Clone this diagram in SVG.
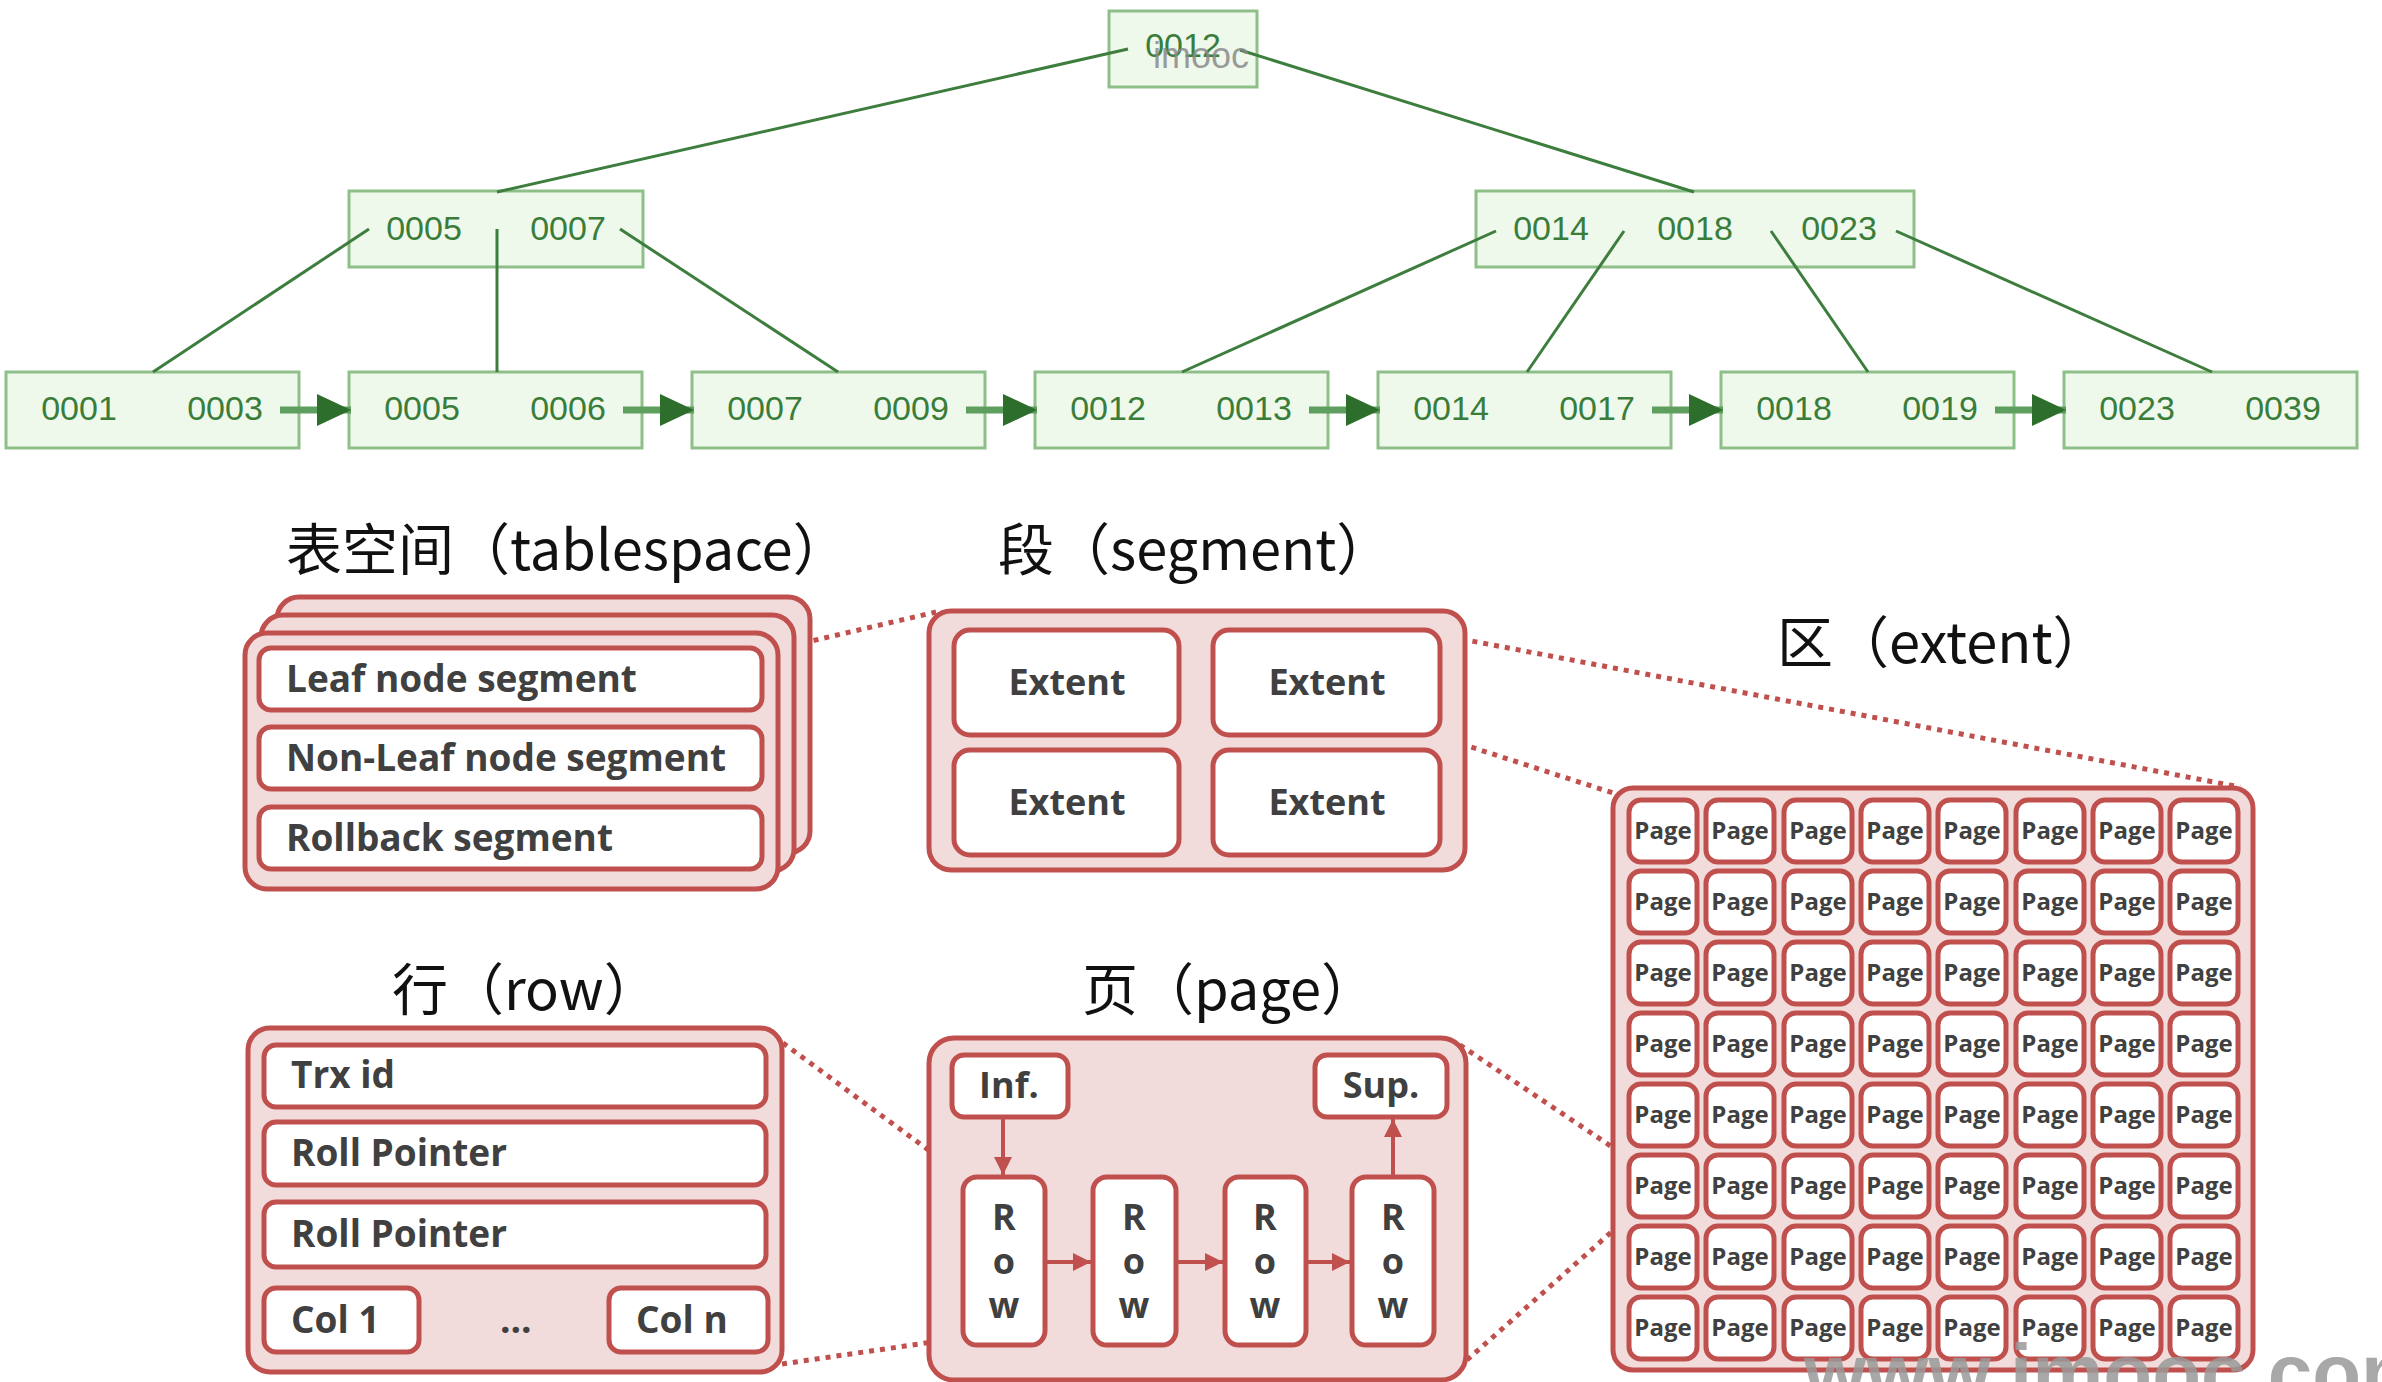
<svg xmlns="http://www.w3.org/2000/svg" width="2382" height="1382" viewBox="0 0 2382 1382">
<defs>
<style>
.tb{fill:#eef9ec;stroke:#8fbf89;stroke-width:3}
.tt{font-family:"Liberation Sans",Arial,sans-serif;font-size:34px;fill:#3a7d3a;text-anchor:middle}
.tl{stroke:#3d7d3d;stroke-width:3;fill:none}
.la{stroke:#5e9e5e;stroke-width:7;fill:none}
.ob{fill:#f2dcdb;stroke:#c0504d;stroke-width:5}
.ib{fill:#ffffff;stroke:#c0504d;stroke-width:5}
.lb{font-family:"Open Sans","Noto Sans",sans-serif;font-weight:700;font-size:37px;fill:#404040}
.lc{font-family:"Open Sans","Noto Sans",sans-serif;font-weight:700;font-size:36px;fill:#404040;text-anchor:middle}
.pg{font-family:"Open Sans","Noto Sans",sans-serif;font-weight:700;font-size:24px;fill:#404040;text-anchor:middle}
.ti{font-family:"Noto Sans CJK SC","Noto Sans",sans-serif;font-size:56px;fill:#111111}
.dl{stroke:#c0504d;stroke-width:5;stroke-dasharray:5 6;fill:none}
.ra{stroke:#c0504d;stroke-width:4;fill:none}
</style>
<marker id="ga" markerUnits="userSpaceOnUse" markerWidth="34" markerHeight="32" refX="34" refY="16" orient="auto"><path d="M0,0 L34,16 L0,32 z" fill="#2d6e2d"/></marker>
<marker id="ra" markerUnits="userSpaceOnUse" markerWidth="18" markerHeight="18" refX="18" refY="9" orient="auto"><path d="M0,0 L18,9 L0,18 z" fill="#c0504d"/></marker>
</defs>
<rect width="2382" height="1382" fill="#ffffff"/>

<g id="root"><rect class="tb" x="1109" y="11" width="148" height="76"/><text class="tt" x="1183" y="57">0012</text></g>
<g id="inner-left"><rect class="tb" x="349" y="191" width="294" height="76"/><text class="tt" x="424" y="240">0005</text><text class="tt" x="568" y="240">0007</text></g>
<g id="inner-right"><rect class="tb" x="1476" y="191" width="438" height="76"/><text class="tt" x="1551" y="240">0014</text><text class="tt" x="1695" y="240">0018</text><text class="tt" x="1839" y="240">0023</text></g>

<g id="leaf1"><rect class="tb" x="6" y="372" width="293" height="76"/><text class="tt" x="79" y="420">0001</text><text class="tt" x="225" y="420">0003</text></g>
<g id="leaf2"><rect class="tb" x="349" y="372" width="293" height="76"/><text class="tt" x="422" y="420">0005</text><text class="tt" x="568" y="420">0006</text></g>
<g id="leaf3"><rect class="tb" x="692" y="372" width="293" height="76"/><text class="tt" x="765" y="420">0007</text><text class="tt" x="911" y="420">0009</text></g>
<g id="leaf4"><rect class="tb" x="1035" y="372" width="293" height="76"/><text class="tt" x="1108" y="420">0012</text><text class="tt" x="1254" y="420">0013</text></g>
<g id="leaf5"><rect class="tb" x="1378" y="372" width="293" height="76"/><text class="tt" x="1451" y="420">0014</text><text class="tt" x="1597" y="420">0017</text></g>
<g id="leaf6"><rect class="tb" x="1721" y="372" width="293" height="76"/><text class="tt" x="1794" y="420">0018</text><text class="tt" x="1940" y="420">0019</text></g>
<g id="leaf7"><rect class="tb" x="2064" y="372" width="293" height="76"/><text class="tt" x="2137" y="420">0023</text><text class="tt" x="2283" y="420">0039</text></g>

<!-- B+ tree connectors -->
<g id="tree-connectors">
<line class="tl" x1="1128" y1="49" x2="497" y2="192"/>
<line class="tl" x1="1240" y1="50" x2="1694" y2="192"/>
<line class="tl" x1="369" y1="229" x2="153" y2="372"/>
<line class="tl" x1="497" y1="229" x2="497" y2="372"/>
<line class="tl" x1="620" y1="229" x2="838" y2="372"/>
<line class="tl" x1="1496" y1="231" x2="1182" y2="372"/>
<line class="tl" x1="1624" y1="231" x2="1527" y2="372"/>
<line class="tl" x1="1771" y1="231" x2="1868" y2="372"/>
<line class="tl" x1="1896" y1="231" x2="2212" y2="372"/>
</g>

<g id="leaf-links">
<line class="la" x1="280" y1="410" x2="351" y2="410" marker-end="url(#ga)"/>
<line class="la" x1="623" y1="410" x2="694" y2="410" marker-end="url(#ga)"/>
<line class="la" x1="966" y1="410" x2="1037" y2="410" marker-end="url(#ga)"/>
<line class="la" x1="1309" y1="410" x2="1380" y2="410" marker-end="url(#ga)"/>
<line class="la" x1="1652" y1="410" x2="1723" y2="410" marker-end="url(#ga)"/>
<line class="la" x1="1995" y1="410" x2="2066" y2="410" marker-end="url(#ga)"/>
</g>

<text x="1153" y="68" font-family="Liberation Sans,Arial,sans-serif" font-size="36" fill="#8a8a8a" fill-opacity="0.85">imooc</text>

<!-- Titles -->
<text class="ti" x="286" y="570">表空间（tablespace）</text>
<text class="ti" x="998" y="570">段（segment）</text>
<text class="ti" x="1777" y="663">区（extent）</text>
<text class="ti" x="392" y="1010">行（row）</text>
<text class="ti" x="1082" y="1010">页（page）</text>

<!-- Dotted connectors -->
<g id="zoom-connectors">
<line class="dl" x1="760" y1="653" x2="936" y2="612"/>
<line class="dl" x1="1440" y1="635" x2="2240" y2="787"/>
<line class="dl" x1="1440" y1="737" x2="1613" y2="793"/>
<line class="dl" x1="783" y1="1043" x2="965" y2="1177"/>
<line class="dl" x1="782" y1="1364" x2="960" y2="1338"/>
<line class="dl" x1="1460" y1="1045" x2="1627" y2="1157"/>
<line class="dl" x1="1467" y1="1360" x2="1625" y2="1220"/>
</g>

<g id="tablespace">
<rect class="ob" x="277" y="597" width="533" height="256" rx="22"/>
<rect class="ob" x="261" y="615" width="533" height="256" rx="22"/>
<rect class="ob" x="245" y="633" width="533" height="256" rx="22"/>
<rect class="ib" x="259" y="648" width="503" height="62" rx="12"/>
<rect class="ib" x="259" y="727" width="503" height="62" rx="12"/>
<rect class="ib" x="259" y="807" width="503" height="62" rx="12"/>
<text class="lb" x="286" y="692">Leaf node segment</text>
<text class="lb" x="286" y="771">Non-Leaf node segment</text>
<text class="lb" x="286" y="851">Rollback segment</text>
</g>

<g id="segment">
<rect class="ob" x="929" y="611" width="536" height="259" rx="22"/>
<rect class="ib" x="954" y="630" width="225" height="105" rx="16"/>
<rect class="ib" x="1213" y="630" width="227" height="105" rx="16"/>
<rect class="ib" x="954" y="750" width="225" height="105" rx="16"/>
<rect class="ib" x="1213" y="750" width="227" height="105" rx="16"/>
<text class="lc" x="1067" y="695">Extent</text>
<text class="lc" x="1327" y="695">Extent</text>
<text class="lc" x="1067" y="815">Extent</text>
<text class="lc" x="1327" y="815">Extent</text>
</g>

<g id="row">
<rect class="ob" x="248" y="1028" width="534" height="344" rx="22"/>
<rect class="ib" x="264" y="1045" width="502" height="62" rx="12"/>
<rect class="ib" x="264" y="1122" width="502" height="63" rx="12"/>
<rect class="ib" x="264" y="1202" width="502" height="65" rx="12"/>
<rect class="ib" x="264" y="1288" width="155" height="64" rx="12"/>
<rect class="ib" x="609" y="1288" width="159" height="64" rx="12"/>
<text class="lb" x="291" y="1088">Trx id</text>
<text class="lb" x="291" y="1166">Roll Pointer</text>
<text class="lb" x="291" y="1247">Roll Pointer</text>
<text class="lb" x="291" y="1333">Col 1</text>
<text class="lb" x="500" y="1333">...</text>
<text class="lb" x="636" y="1333">Col n</text>
</g>

<g id="page">
<rect class="ob" x="929" y="1038" width="537" height="342" rx="25"/>
<rect class="ib" x="952" y="1055" width="116" height="62" rx="12"/>
<rect class="ib" x="1315" y="1055" width="132" height="62" rx="12"/>
<text class="lc" x="1009" y="1098">Inf.</text>
<text class="lc" x="1381" y="1098">Sup.</text>
<rect class="ib" x="963" y="1177" width="82" height="168" rx="14"/>
<rect class="ib" x="1093" y="1177" width="83" height="168" rx="14"/>
<rect class="ib" x="1225" y="1177" width="81" height="168" rx="14"/>
<rect class="ib" x="1352" y="1177" width="82" height="168" rx="14"/>
<text class="lc" x="1004" y="1230">R</text><text class="lc" x="1004" y="1274">o</text><text class="lc" x="1004" y="1318">w</text>
<text class="lc" x="1134" y="1230">R</text><text class="lc" x="1134" y="1274">o</text><text class="lc" x="1134" y="1318">w</text>
<text class="lc" x="1265" y="1230">R</text><text class="lc" x="1265" y="1274">o</text><text class="lc" x="1265" y="1318">w</text>
<text class="lc" x="1393" y="1230">R</text><text class="lc" x="1393" y="1274">o</text><text class="lc" x="1393" y="1318">w</text>
</g>

<g id="page-arrows">
<line class="ra" x1="1003" y1="1119" x2="1003" y2="1175" marker-end="url(#ra)"/>
<line class="ra" x1="1047" y1="1262" x2="1091" y2="1262" marker-end="url(#ra)"/>
<line class="ra" x1="1178" y1="1262" x2="1223" y2="1262" marker-end="url(#ra)"/>
<line class="ra" x1="1308" y1="1262" x2="1350" y2="1262" marker-end="url(#ra)"/>
<line class="ra" x1="1393" y1="1175" x2="1393" y2="1119" marker-end="url(#ra)"/>
</g>

<g id="extent">
<rect class="ob" x="1613" y="788" width="640" height="582" rx="20"/>
<g id="cells">
<rect class="ib" x="1629" y="800" width="68" height="62" rx="12"/><rect class="ib" x="1706" y="800" width="68" height="62" rx="12"/><rect class="ib" x="1784" y="800" width="68" height="62" rx="12"/><rect class="ib" x="1861" y="800" width="68" height="62" rx="12"/><rect class="ib" x="1938" y="800" width="68" height="62" rx="12"/><rect class="ib" x="2016" y="800" width="68" height="62" rx="12"/><rect class="ib" x="2093" y="800" width="68" height="62" rx="12"/><rect class="ib" x="2170" y="800" width="68" height="62" rx="12"/>
<rect class="ib" x="1629" y="871" width="68" height="62" rx="12"/><rect class="ib" x="1706" y="871" width="68" height="62" rx="12"/><rect class="ib" x="1784" y="871" width="68" height="62" rx="12"/><rect class="ib" x="1861" y="871" width="68" height="62" rx="12"/><rect class="ib" x="1938" y="871" width="68" height="62" rx="12"/><rect class="ib" x="2016" y="871" width="68" height="62" rx="12"/><rect class="ib" x="2093" y="871" width="68" height="62" rx="12"/><rect class="ib" x="2170" y="871" width="68" height="62" rx="12"/>
<rect class="ib" x="1629" y="942" width="68" height="62" rx="12"/><rect class="ib" x="1706" y="942" width="68" height="62" rx="12"/><rect class="ib" x="1784" y="942" width="68" height="62" rx="12"/><rect class="ib" x="1861" y="942" width="68" height="62" rx="12"/><rect class="ib" x="1938" y="942" width="68" height="62" rx="12"/><rect class="ib" x="2016" y="942" width="68" height="62" rx="12"/><rect class="ib" x="2093" y="942" width="68" height="62" rx="12"/><rect class="ib" x="2170" y="942" width="68" height="62" rx="12"/>
<rect class="ib" x="1629" y="1013" width="68" height="62" rx="12"/><rect class="ib" x="1706" y="1013" width="68" height="62" rx="12"/><rect class="ib" x="1784" y="1013" width="68" height="62" rx="12"/><rect class="ib" x="1861" y="1013" width="68" height="62" rx="12"/><rect class="ib" x="1938" y="1013" width="68" height="62" rx="12"/><rect class="ib" x="2016" y="1013" width="68" height="62" rx="12"/><rect class="ib" x="2093" y="1013" width="68" height="62" rx="12"/><rect class="ib" x="2170" y="1013" width="68" height="62" rx="12"/>
<rect class="ib" x="1629" y="1084" width="68" height="62" rx="12"/><rect class="ib" x="1706" y="1084" width="68" height="62" rx="12"/><rect class="ib" x="1784" y="1084" width="68" height="62" rx="12"/><rect class="ib" x="1861" y="1084" width="68" height="62" rx="12"/><rect class="ib" x="1938" y="1084" width="68" height="62" rx="12"/><rect class="ib" x="2016" y="1084" width="68" height="62" rx="12"/><rect class="ib" x="2093" y="1084" width="68" height="62" rx="12"/><rect class="ib" x="2170" y="1084" width="68" height="62" rx="12"/>
<rect class="ib" x="1629" y="1155" width="68" height="62" rx="12"/><rect class="ib" x="1706" y="1155" width="68" height="62" rx="12"/><rect class="ib" x="1784" y="1155" width="68" height="62" rx="12"/><rect class="ib" x="1861" y="1155" width="68" height="62" rx="12"/><rect class="ib" x="1938" y="1155" width="68" height="62" rx="12"/><rect class="ib" x="2016" y="1155" width="68" height="62" rx="12"/><rect class="ib" x="2093" y="1155" width="68" height="62" rx="12"/><rect class="ib" x="2170" y="1155" width="68" height="62" rx="12"/>
<rect class="ib" x="1629" y="1226" width="68" height="62" rx="12"/><rect class="ib" x="1706" y="1226" width="68" height="62" rx="12"/><rect class="ib" x="1784" y="1226" width="68" height="62" rx="12"/><rect class="ib" x="1861" y="1226" width="68" height="62" rx="12"/><rect class="ib" x="1938" y="1226" width="68" height="62" rx="12"/><rect class="ib" x="2016" y="1226" width="68" height="62" rx="12"/><rect class="ib" x="2093" y="1226" width="68" height="62" rx="12"/><rect class="ib" x="2170" y="1226" width="68" height="62" rx="12"/>
<rect class="ib" x="1629" y="1297" width="68" height="62" rx="12"/><rect class="ib" x="1706" y="1297" width="68" height="62" rx="12"/><rect class="ib" x="1784" y="1297" width="68" height="62" rx="12"/><rect class="ib" x="1861" y="1297" width="68" height="62" rx="12"/><rect class="ib" x="1938" y="1297" width="68" height="62" rx="12"/><rect class="ib" x="2016" y="1297" width="68" height="62" rx="12"/><rect class="ib" x="2093" y="1297" width="68" height="62" rx="12"/><rect class="ib" x="2170" y="1297" width="68" height="62" rx="12"/>
</g>
<g id="cell-labels">
<text class="pg" x="1663" y="839">Page</text><text class="pg" x="1740" y="839">Page</text><text class="pg" x="1818" y="839">Page</text><text class="pg" x="1895" y="839">Page</text><text class="pg" x="1972" y="839">Page</text><text class="pg" x="2050" y="839">Page</text><text class="pg" x="2127" y="839">Page</text><text class="pg" x="2204" y="839">Page</text>
<text class="pg" x="1663" y="910">Page</text><text class="pg" x="1740" y="910">Page</text><text class="pg" x="1818" y="910">Page</text><text class="pg" x="1895" y="910">Page</text><text class="pg" x="1972" y="910">Page</text><text class="pg" x="2050" y="910">Page</text><text class="pg" x="2127" y="910">Page</text><text class="pg" x="2204" y="910">Page</text>
<text class="pg" x="1663" y="981">Page</text><text class="pg" x="1740" y="981">Page</text><text class="pg" x="1818" y="981">Page</text><text class="pg" x="1895" y="981">Page</text><text class="pg" x="1972" y="981">Page</text><text class="pg" x="2050" y="981">Page</text><text class="pg" x="2127" y="981">Page</text><text class="pg" x="2204" y="981">Page</text>
<text class="pg" x="1663" y="1052">Page</text><text class="pg" x="1740" y="1052">Page</text><text class="pg" x="1818" y="1052">Page</text><text class="pg" x="1895" y="1052">Page</text><text class="pg" x="1972" y="1052">Page</text><text class="pg" x="2050" y="1052">Page</text><text class="pg" x="2127" y="1052">Page</text><text class="pg" x="2204" y="1052">Page</text>
<text class="pg" x="1663" y="1123">Page</text><text class="pg" x="1740" y="1123">Page</text><text class="pg" x="1818" y="1123">Page</text><text class="pg" x="1895" y="1123">Page</text><text class="pg" x="1972" y="1123">Page</text><text class="pg" x="2050" y="1123">Page</text><text class="pg" x="2127" y="1123">Page</text><text class="pg" x="2204" y="1123">Page</text>
<text class="pg" x="1663" y="1194">Page</text><text class="pg" x="1740" y="1194">Page</text><text class="pg" x="1818" y="1194">Page</text><text class="pg" x="1895" y="1194">Page</text><text class="pg" x="1972" y="1194">Page</text><text class="pg" x="2050" y="1194">Page</text><text class="pg" x="2127" y="1194">Page</text><text class="pg" x="2204" y="1194">Page</text>
<text class="pg" x="1663" y="1265">Page</text><text class="pg" x="1740" y="1265">Page</text><text class="pg" x="1818" y="1265">Page</text><text class="pg" x="1895" y="1265">Page</text><text class="pg" x="1972" y="1265">Page</text><text class="pg" x="2050" y="1265">Page</text><text class="pg" x="2127" y="1265">Page</text><text class="pg" x="2204" y="1265">Page</text>
<text class="pg" x="1663" y="1336">Page</text><text class="pg" x="1740" y="1336">Page</text><text class="pg" x="1818" y="1336">Page</text><text class="pg" x="1895" y="1336">Page</text><text class="pg" x="1972" y="1336">Page</text><text class="pg" x="2050" y="1336">Page</text><text class="pg" x="2127" y="1336">Page</text><text class="pg" x="2204" y="1336">Page</text>
</g>
</g>

<text x="1804" y="1400" font-family="Liberation Sans,Arial,sans-serif" font-weight="700" font-size="80" fill="#999999" fill-opacity="0.85">www.imooc.com</text>
</svg>
